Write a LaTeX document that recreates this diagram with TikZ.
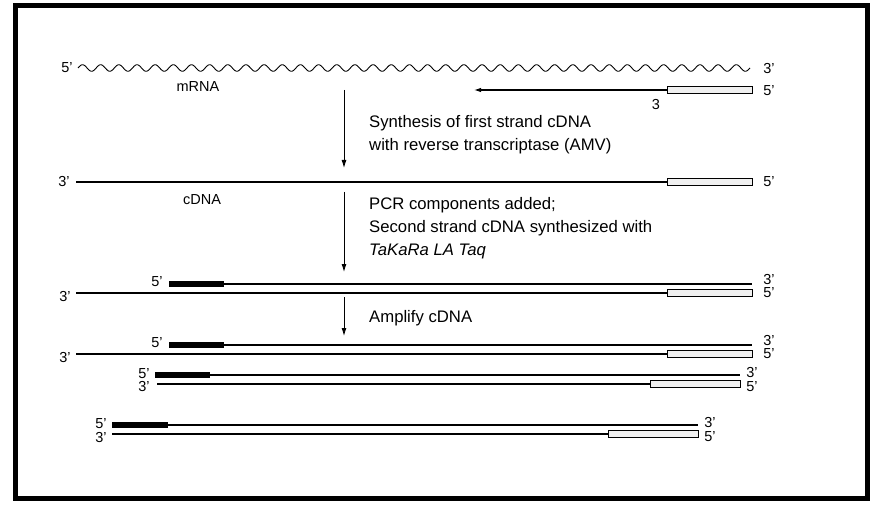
\documentclass[tikz,border=0pt]{standalone}
\usepackage{fontspec}
\setmainfont{Liberation Sans}
\usetikzlibrary{arrows.meta}
\begin{document}
\begin{tikzpicture}[x=1pt,y=-1pt,
  strand/.style={line width=1.1pt},
  primerbox/.style={draw, line width=0.9pt, fill=gray!12, inner sep=0pt, minimum height=6.5pt, anchor=west},
  tagbox/.style={fill=black, inner sep=0pt, minimum height=6.5pt, anchor=west},
  lbl/.style={font=\fontsize{14.5}{16}\selectfont, inner sep=0pt},
  txt/.style={font=\fontsize{16.7}{23}\selectfont, align=left, anchor=west, inner sep=0pt},
  steparrow/.style={line width=0.9pt, -{Latex[length=8pt,width=5pt]}}
]
\useasboundingbox (0,0) rectangle (876,508);
\draw[line width=5pt] (15.5,5.5) rectangle (867.5,498.5);

% mRNA with primer
\coordinate (m5) at (78,68);
\coordinate (m3) at (750,68);
\draw[line width=0.9pt, line join=round] plot[domain=78:750, samples=600, smooth] (\x, {68-3.3*sin((\x-78)/18.16*360)});
\node[lbl] (lm5) at (67,68) {5'};
\node[lbl] (lm3) at (769,69) {3'};
\node[lbl] (mrna) at (198,87) {mRNA};
\node[primerbox, minimum width=85pt] (p0) at (667,90) {};
\coordinate (p0end) at (474,90);
\draw[strand, -{Latex[length=7pt,width=4.5pt]}] (p0.west) -- (p0end);
\node[lbl] (lp05) at (769,91) {5'};
\node[lbl] (lp03) at (656,105) {3};

% step 1
\coordinate (a1s) at (344,90);
\coordinate (a1e) at (344,168);
\draw[steparrow] (a1s) -- (a1e);
\node[txt] (t1) at (369,135) {Synthesis of first strand cDNA\\with reverse transcriptase (AMV)};

% cDNA
\coordinate (c3) at (76,182);
\node[primerbox, minimum width=85pt] (pc) at (667,182) {};
\draw[strand] (c3) -- (pc.west);
\node[lbl] (lc3) at (64,182) {3'};
\node[lbl] (lc5) at (769,182) {5'};
\node[lbl] (cdna) at (202,200) {cDNA};

% step 2
\coordinate (a2s) at (344,192);
\coordinate (a2e) at (344,272);
\draw[steparrow] (a2s) -- (a2e);
\node[txt] (t2) at (369,228) {PCR components added;\\Second strand cDNA synthesized with\\\textit{TaKaRa LA Taq}};

% double strand 1
\node[tagbox, minimum width=55pt] (k1) at (169,284) {};
\coordinate (k1e) at (752,284);
\draw[strand] (k1.east) -- (k1e);
\coordinate (b1s) at (76,293);
\node[primerbox, minimum width=85pt] (q1) at (667,293) {};
\draw[strand] (b1s) -- (q1.west);
\node[lbl] (d1a) at (157,282) {5'};
\node[lbl] (d1b) at (65,297) {3'};
\node[lbl] (d1c) at (769,280) {3'};
\node[lbl] (d1d) at (769,293) {5'};

% step 3
\coordinate (a3s) at (344,297);
\coordinate (a3e) at (344,336);
\draw[steparrow] (a3s) -- (a3e);
\node[txt] (t3) at (369,318) {Amplify cDNA};

% double strand 2
\node[tagbox, minimum width=55pt] (k2) at (169,345) {};
\coordinate (k2e) at (752,345);
\draw[strand] (k2.east) -- (k2e);
\coordinate (b2s) at (76,354);
\node[primerbox, minimum width=85pt] (q2) at (667,354) {};
\draw[strand] (b2s) -- (q2.west);
\node[lbl] (d2a) at (157,343) {5'};
\node[lbl] (d2b) at (65,358) {3'};
\node[lbl] (d2c) at (769,341) {3'};
\node[lbl] (d2d) at (769,354) {5'};

% double strand 3
\node[tagbox, minimum width=55pt] (k3) at (155,375) {};
\coordinate (k3e) at (740,375);
\draw[strand] (k3.east) -- (k3e);
\coordinate (b3s) at (157,384);
\node[primerbox, minimum width=90pt] (q3) at (650,384) {};
\draw[strand] (b3s) -- (q3.west);
\node[lbl] (d3a) at (144,374) {5'};
\node[lbl] (d3b) at (144,387) {3'};
\node[lbl] (d3c) at (752,373) {3'};
\node[lbl] (d3d) at (752,387) {5'};

% double strand 4
\node[tagbox, minimum width=56pt] (k4) at (112,425) {};
\coordinate (k4e) at (698,425);
\draw[strand] (k4.east) -- (k4e);
\coordinate (b4s) at (112,434);
\node[primerbox, minimum width=90pt] (q4) at (608,434) {};
\draw[strand] (b4s) -- (q4.west);
\node[lbl] (d4a) at (101,424) {5'};
\node[lbl] (d4b) at (101,438) {3'};
\node[lbl] (d4c) at (710,423) {3'};
\node[lbl] (d4d) at (710,437) {5'};
\end{tikzpicture}
\end{document}
